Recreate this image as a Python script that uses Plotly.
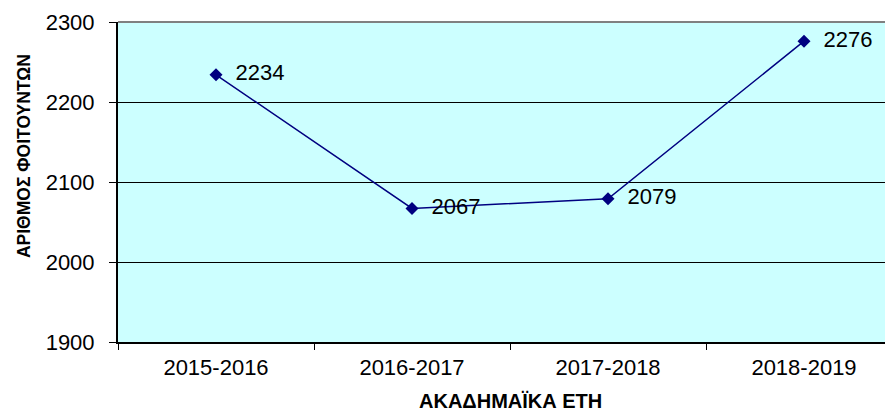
import plotly.graph_objects as go

years = ["2015-2016", "2016-2017", "2017-2018", "2018-2019"]
students = [2234, 2067, 2079, 2276]
y_ticks = [1900, 2000, 2100, 2200, 2300]
x_title = "ΑΚΑΔΗΜΑΪΚΑ ΕΤΗ"
y_title = "ΑΡΙΘΜΟΣ ΦΟΙΤΟΥΝΤΩΝ"

FONT = "Liberation Sans, Arial"

fig = go.Figure()
fig.add_trace(go.Scatter(
    x=years, y=students, mode="lines+markers+text",
    line=dict(color="#000080", width=1.5),
    marker=dict(symbol="diamond", size=10, color="#000080"),
    text=[str(v) for v in students],
    texttemplate="  %{text}",
    textposition="middle right",
    textfont=dict(family=FONT, size=22, color="black"),
    cliponaxis=False,
    showlegend=False,
))

# page body has an 8px margin, so the figure is sized/offset to compensate
fig.update_layout(
    width=885, height=407,
    margin=dict(l=110, r=0, t=14, b=73),
    paper_bgcolor="white",
    plot_bgcolor="#CCFFFF",
    font=dict(family=FONT, size=22, color="black"),
)
fig.update_xaxes(
    type="category", tickson="boundaries", ticks="outside", ticklen=6,
    tickcolor="black", showline=True, linecolor="black", linewidth=2,
    showgrid=False, range=[-0.5, 3.454], ticklabelstandoff=5,
)
fig.update_yaxes(
    range=[1900, 2300], tickvals=y_ticks, ticks="outside", ticklen=7,
    tickcolor="black", showline=True, linecolor="black", linewidth=2,
    showgrid=True, gridcolor="black", gridwidth=1, zeroline=False,
    ticklabelstandoff=10,
)
fig.add_shape(type="line", xref="paper", yref="paper", x0=0, x1=1, y0=1, y1=1,
              line=dict(color="#808080", width=2), layer="above")

fig.add_annotation(text="<b>" + x_title + "</b>", xref="paper", yref="paper",
                   x=0.506, y=0, yshift=-59, xanchor="center", yanchor="middle",
                   borderpad=0, showarrow=False, font=dict(family=FONT, size=20))
fig.add_annotation(text="<b>" + y_title + "</b>", xref="paper", yref="paper",
                   x=0, y=0.581, xshift=-94, xanchor="center", yanchor="middle",
                   textangle=-90, showarrow=False, font=dict(family=FONT, size=17.5))

fig.write_html("out.html")
